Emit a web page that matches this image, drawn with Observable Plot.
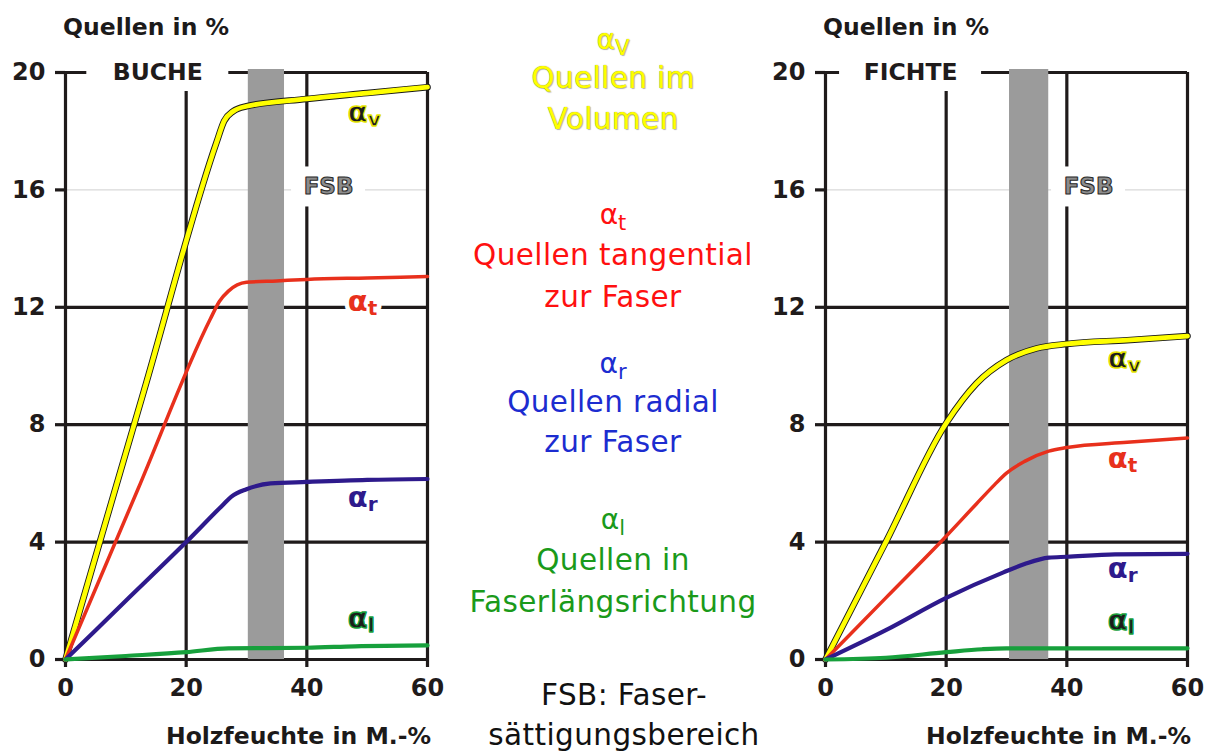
<!DOCTYPE html>
<html><head><meta charset="utf-8">
<script src="https://cdn.jsdelivr.net/npm/d3@7"></script>
<script src="https://cdn.jsdelivr.net/npm/@observablehq/plot@0.6"></script>
<style>
html,body{margin:0;padding:0;background:#fff;}
#root{position:relative;width:1214px;height:751px;overflow:hidden;font-family:"DejaVu Sans",sans-serif;}
.abs{position:absolute;white-space:nowrap;}
.axt{font-weight:bold;font-size:23.5px;color:#1c1a1a;line-height:28px;}
.mid{position:absolute;width:420px;text-align:center;font-size:29.5px;letter-spacing:0.4px;line-height:30px;white-space:nowrap;}
.chart{position:absolute;top:45px;}
</style></head><body><div id="root"></div>
<script>
// ---- data ----
const xTicks = [0, 20, 40, 60];
const yTicks = [0, 4, 8, 12, 16, 20];
const gridY = [0, 4, 8, 12, 20];
const gridX = [0, 20, 40, 60];
const seriesKeys = ["v", "t", "r", "l"];

// BUCHE (beech)
const bucheVX = [0, 13, 25, 26.3, 27.8, 30, 40, 50, 60];
const bucheV  = [0, 9.15, 17.6, 18.35, 18.68, 18.85, 19.1, 19.3, 19.5];
const bucheTX = [0, 12, 24, 25.5, 27, 30, 35, 40, 50, 60];
const bucheT  = [0, 5.8, 11.6, 12.2, 12.55, 12.85, 12.9, 12.95, 13.0, 13.05];
const bucheRX = [0, 10, 20, 26, 27.5, 30, 34, 40, 50, 60];
const bucheR  = [0, 2, 4, 5.25, 5.55, 5.8, 6.0, 6.05, 6.12, 6.15];
const bucheLX = [0, 10, 20, 27, 40, 48, 60];
const bucheL  = [0, 0.12, 0.25, 0.38, 0.4, 0.45, 0.48];
const bucheBand = [30.3, 36.3];
const bucheLabelY = [18.64, 12.2, 5.52, 1.4];

// FICHTE (spruce)
const fichteVX = [0, 10, 20, 25, 30, 35, 40, 50, 60];
const fichteV  = [0, 4, 8.05, 9.4, 10.2, 10.6, 10.75, 10.88, 11.02];
const fichteTX = [0, 10, 20, 25, 28, 30, 33, 37, 40, 50, 60];
const fichteT  = [0, 2.1, 4.2, 5.3, 5.95, 6.35, 6.75, 7.1, 7.22, 7.4, 7.55];
const fichteRX = [0, 10, 20, 29.5, 33, 37, 40, 48, 60];
const fichteR  = [0, 1.0, 2.1, 2.97, 3.25, 3.47, 3.5, 3.58, 3.6];
const fichteLX = [0, 10, 20, 26, 30, 40, 60];
const fichteL  = [0, 0.06, 0.25, 0.35, 0.38, 0.38, 0.38];
const fichteBand = [30.5, 37.0];
const fichteLabelY = [10.25, 6.85, 3.1, 1.33];

const speciesNames = ["BUCHE", "FICHTE"];
const speciesNameX = [15.3, 14.1];
const fsbText = "FSB";
const fsbX = 43.6, fsbY = 16.1;
const labelX = 46.8;

const yTitle = "Quellen in %";
const xTitle = "Holzfeuchte in M.-%";
const legendSymbols = ["V", "t", "r", "l"];
const legendLines = [["Quellen im", "Volumen"], ["Quellen tangential", "zur Faser"], ["Quellen radial", "zur Faser"], ["Quellen in", "Faserlängsrichtung"]];
const fsbNote = ["FSB: Faser-", "sättigungsbereich"];

// ---- styles ----
const ink = "#1f1b1b";
const lineColor = {v: "#ffff00", t: "#e8301c", r: "#2e1a8c", l: "#17a03c"};
const lineWidth = {v: 4.8, t: 3.5, r: 4.2, l: 4.2};
const labelFill = {v: "#1c1c1c", t: "#e8301c", r: "#2e1a8c", l: "#1c1c1c"};
const labelStroke = {v: "#e6e600", t: "none", r: "none", l: "#17a03c"};
const legendColor = ["#ffff00", "#ff1010", "#1c2cd0", "#1a9a1a"];
const font = "DejaVu Sans";

function rowsOf(key, xs, ys) { return xs.map((x, i) => ({key, x, y: ys[i]})); }

function makeChart(cfg) {
  const labels = seriesKeys.map((k, i) => ({key: k, x: labelX, y: cfg.labelY[i]}));
  const marks = [
    Plot.ruleY([16], {x1: 0, x2: 60, stroke: "#cfcfcf", strokeWidth: 1}),
    Plot.ruleY(gridY, {x1: 0, x2: 60, stroke: ink, strokeWidth: 3.2}),
    Plot.ruleX(gridX, {y1: 0, y2: 20, stroke: ink, strokeWidth: 3.2}),
    Plot.axisY({ticks: yTicks, tickSize: 10, tickPadding: 10, stroke: ink, strokeWidth: 3.2, fill: ink,
                fontSize: 24, fontWeight: "bold", fontFamily: font, label: null, tickFormat: d => String(d)}),
    Plot.axisX({ticks: xTicks, tickSize: 8, tickPadding: 11, stroke: ink, strokeWidth: 3.2, fill: ink,
                fontSize: 24, fontWeight: "bold", fontFamily: font, label: null, tickFormat: d => String(d)}),
    Plot.rect([cfg.band], {x1: d => d[0], x2: d => d[1], y1: 0, y2: 20, fill: "#9b9b9b", insetTop: -3}),
    // white boxes behind annotation texts
    Plot.rect([cfg.nameX], {x1: d => d, x2: d => d, y1: 20, y2: 20, fill: "white",
               insetLeft: -71, insetRight: -71, insetTop: -20, insetBottom: -19}),
    Plot.rect([fsbX], {x1: d => d, x2: d => d, y1: fsbY, y2: fsbY, fill: "white",
               insetLeft: -37, insetRight: -37, insetTop: -20, insetBottom: -20}),
    Plot.text([cfg.name], {x: cfg.nameX, y: 20, text: d => d, fill: ink, fontSize: 23.5, fontWeight: "bold", fontFamily: font}),
    Plot.text([fsbText], {x: fsbX, y: fsbY, text: d => d, fill: "#8c8c8c", stroke: "#2a2a2a", strokeWidth: 1.1,
                          paintOrder: "fill", fontSize: 23, fontWeight: "bold", fontFamily: font}),
    // white halos behind series labels
    Plot.text(labels, {x: "x", y: "y", text: () => "α", textAnchor: "start", fill: "white", stroke: "white", strokeWidth: 9,
                       fontSize: 29, fontWeight: "bold", fontFamily: font}),
    Plot.text(labels, {x: "x", y: "y", text: "key", textAnchor: "start", dx: 20, dy: 7, fill: "white", stroke: "white", strokeWidth: 9,
                       fontSize: 20, fontWeight: "bold", fontFamily: font})
  ];
  for (const k of seriesKeys) {
    const data = cfg.rows.filter(d => d.key === k);
    if (k === "v") marks.push(Plot.line(data, {x: "x", y: "y", stroke: "#1a1a1a", strokeWidth: 6.6, curve: "monotone-x"}));
    marks.push(Plot.line(data, {x: "x", y: "y", stroke: lineColor[k], strokeWidth: lineWidth[k], curve: "monotone-x"}));
  }
  for (const k of seriesKeys) {
    const lab = labels.filter(d => d.key === k);
    const sw = labelStroke[k] === "none" ? 0 : 1.3;
    marks.push(Plot.text(lab, {x: "x", y: "y", text: () => "α", textAnchor: "start", fill: labelFill[k],
      stroke: labelStroke[k], strokeWidth: sw, paintOrder: "fill", fontSize: 29, fontWeight: "bold", fontFamily: font}));
    marks.push(Plot.text(lab, {x: "x", y: "y", text: "key", textAnchor: "start", dx: 20, dy: 7, fill: labelFill[k],
      stroke: labelStroke[k], strokeWidth: sw, paintOrder: "fill", fontSize: 20, fontWeight: "bold", fontFamily: font}));
  }
  return Plot.plot({
    width: cfg.width, height: 668,
    marginLeft: 65, marginRight: cfg.marginRight, marginTop: 27, marginBottom: 54,
    x: {domain: [0, 60]}, y: {domain: [0, 20]},
    style: {background: "transparent", fontFamily: font, overflow: "visible"},
    marks
  });
}

const root = document.getElementById("root");
function addDiv(cls, text, style) {
  const d = document.createElement("div");
  d.className = cls; d.textContent = text; Object.assign(d.style, style); root.appendChild(d); return d;
}

const left = makeChart({
  name: speciesNames[0], nameX: speciesNameX[0], band: bucheBand, labelY: bucheLabelY,
  rows: [...rowsOf("v", bucheVX, bucheV), ...rowsOf("t", bucheTX, bucheT), ...rowsOf("r", bucheRX, bucheR), ...rowsOf("l", bucheLX, bucheL)],
  width: 450, marginRight: 23
});
left.classList.add("chart"); left.style.left = "0px"; root.appendChild(left);

const right = makeChart({
  name: speciesNames[1], nameX: speciesNameX[1], band: fichteBand, labelY: fichteLabelY,
  rows: [...rowsOf("v", fichteVX, fichteV), ...rowsOf("t", fichteTX, fichteT), ...rowsOf("r", fichteRX, fichteR), ...rowsOf("l", fichteLX, fichteL)],
  width: 454, marginRight: 27
});
right.classList.add("chart"); right.style.left = "760px"; root.appendChild(right);

// axis titles
addDiv("abs axt", yTitle, {left: "63px", top: "13px"});
addDiv("abs axt", yTitle, {left: "823px", top: "13px"});
addDiv("abs axt", xTitle, {right: (1214 - 431) + "px", top: "722px"});
addDiv("abs axt", xTitle, {right: (1214 - 1191) + "px", top: "722px"});

// middle legend
const symY = [42, 217, 366, 522];
const lineYs = [[78, 119], [255, 297], [402, 442], [560, 602]];
legendSymbols.forEach((s, i) => {
  const c = legendColor[i];
  const shadow = i === 0 ? "0 0 1px #8a8a00, 1px 1px 1px #b8b8b8" : "none";
  const d = document.createElement("div");
  d.className = "mid";
  Object.assign(d.style, {left: "403px", top: (symY[i] - 17) + "px", color: c, fontSize: "28px", letterSpacing: "0px", textShadow: shadow});
  const a = document.createElement("span"); a.textContent = "α";
  const sub = document.createElement("span"); sub.textContent = s;
  Object.assign(sub.style, {fontSize: "21px", position: "relative", top: "6px"});
  d.appendChild(a); d.appendChild(sub); root.appendChild(d);
  legendLines[i].forEach((t, j) => {
    addDiv("mid", t, {left: "403px", top: (lineYs[i][j] - 15) + "px", color: c, textShadow: shadow});
  });
});
fsbNote.forEach((t, j) => addDiv("mid", t, {left: "414px", top: ([695, 735][j] - 15) + "px", color: "#111"}));
</script></body></html>
